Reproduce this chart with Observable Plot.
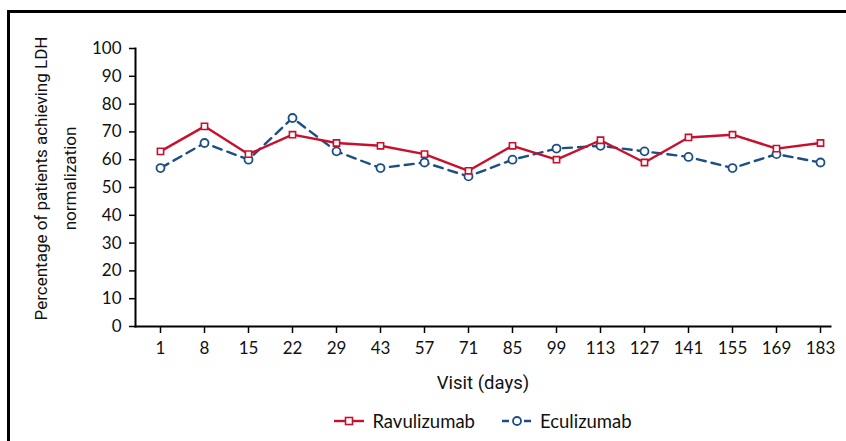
<!DOCTYPE html>
<html>
<head>
<meta charset="utf-8">
<script src="https://cdn.jsdelivr.net/npm/d3@7"></script>
<script src="https://cdn.jsdelivr.net/npm/@observablehq/plot@0.6"></script>
<style>
  body { margin: 0; background: #fff; }
  #wrap { position: relative; width: 846px; height: 441px; overflow: hidden; font-family: Lato, "Open Sans", sans-serif; background: #fff; }
  #border { position: absolute; left: 7px; top: 10px; width: 900px; height: 500px; border-top: 3px solid #000; border-left: 3px solid #000; pointer-events: none; }
  #chart { position: absolute; left: 0; top: 0; }
  #legend { position: absolute; top: 410px; left: 60px; width: 846px; height: 22px; display: flex; justify-content: center; align-items: center; gap: 27px; font-size: 18.5px; color: #111; }
  .item { display: flex; align-items: center; gap: 8px; }
  .item svg { display: block; }
</style>
</head>
<body>
<div id="wrap">
  <div id="chart"></div>
  <div id="legend"></div>
  <div id="border"></div>
</div>
<script>
// ---- data ----
const visits = ["1", "8", "15", "22", "29", "43", "57", "71", "85", "99", "113", "127", "141", "155", "169", "183"];
const ravulizumab = [63, 72, 62, 69, 66, 65, 62, 56, 65, 60, 67, 59, 68, 69, 64, 66];
const eculizumab  = [57, 66, 60, 75, 63, 57, 59, 54, 60, 64, 65, 63, 61, 57, 62, 59];
const seriesNames = ["Ravulizumab", "Eculizumab"];
const yTicks = [0, 10, 20, 30, 40, 50, 60, 70, 80, 90, 100];
const yLabel = "Percentage of patients achieving LDH\nnormalization";
const xLabel = "Visit (days)";

const RED = "#c8102e";
const BLUE = "#1b4f86";

const rav = visits.map((v, i) => ({visit: v, value: ravulizumab[i], series: seriesNames[0]}));
const ecu = visits.map((v, i) => ({visit: v, value: eculizumab[i], series: seriesNames[1]}));

const narrow = "Roboto, 'Liberation Sans Narrow', sans-serif";

const chart = Plot.plot({
  width: 846,
  height: 400,
  marginLeft: 135,
  marginRight: 16,
  marginTop: 48,
  marginBottom: 74,
  x: {type: "point", domain: visits, range: [157, 823], padding: 0},
  y: {domain: [0, 100]},
  style: {fontFamily: "Lato, 'Open Sans', sans-serif", fontSize: "17px", color: "#111", background: "transparent", overflow: "visible"},
  marks: [
    Plot.axisY({ticks: yTicks, tickSize: 6, tickPadding: 8, label: null, strokeWidth: 1.5, stroke: "#000"}),
    Plot.axisX({tickSize: 7, tickPadding: 8, label: null, strokeWidth: 1.5, stroke: "#000"}),
    Plot.frame({anchor: "left", strokeWidth: 2, stroke: "#000"}),
    Plot.frame({anchor: "bottom", strokeWidth: 2, stroke: "#000"}),
    Plot.line(ecu, {x: "visit", y: "value", stroke: BLUE, strokeWidth: 2.4, strokeDasharray: "9,6"}),
    Plot.dot(ecu, {x: "visit", y: "value", r: 4, fill: "white", stroke: BLUE, strokeWidth: 1.8}),
    Plot.line(rav, {x: "visit", y: "value", stroke: RED, strokeWidth: 2.4}),
    Plot.dot(rav, {x: "visit", y: "value", symbol: "square", r: 3.5, fill: "white", stroke: RED, strokeWidth: 1.6}),
    Plot.text([yLabel], {text: d => d, frameAnchor: "left", textAnchor: "middle", lineAnchor: "middle", rotate: -90, dx: -83, dy: -9, lineHeight: 1.65, fontSize: 17, fontFamily: narrow, fill: "#111"}),
    Plot.text([xLabel], {text: d => d, frameAnchor: "bottom", dy: 62, fontSize: 18.5, fontFamily: narrow, fill: "#111"})
  ]
});
document.getElementById("chart").appendChild(chart);

// legend
const legend = document.getElementById("legend");
const swatches = [
  `<svg width="30" height="12"><line x1="0" y1="6" x2="30" y2="6" stroke="${RED}" stroke-width="2.4"/><rect x="11.5" y="2.5" width="7" height="7" fill="white" stroke="${RED}" stroke-width="1.6"/></svg>`,
  `<svg width="30" height="12"><line x1="0" y1="6" x2="30" y2="6" stroke="${BLUE}" stroke-width="2.4" stroke-dasharray="7,4"/><circle cx="15" cy="6" r="4" fill="white" stroke="${BLUE}" stroke-width="1.8"/></svg>`
];
seriesNames.forEach((name, i) => {
  const item = document.createElement("div");
  item.className = "item";
  item.innerHTML = swatches[i] + `<span>${name}</span>`;
  legend.appendChild(item);
});
</script>
</body>
</html>
